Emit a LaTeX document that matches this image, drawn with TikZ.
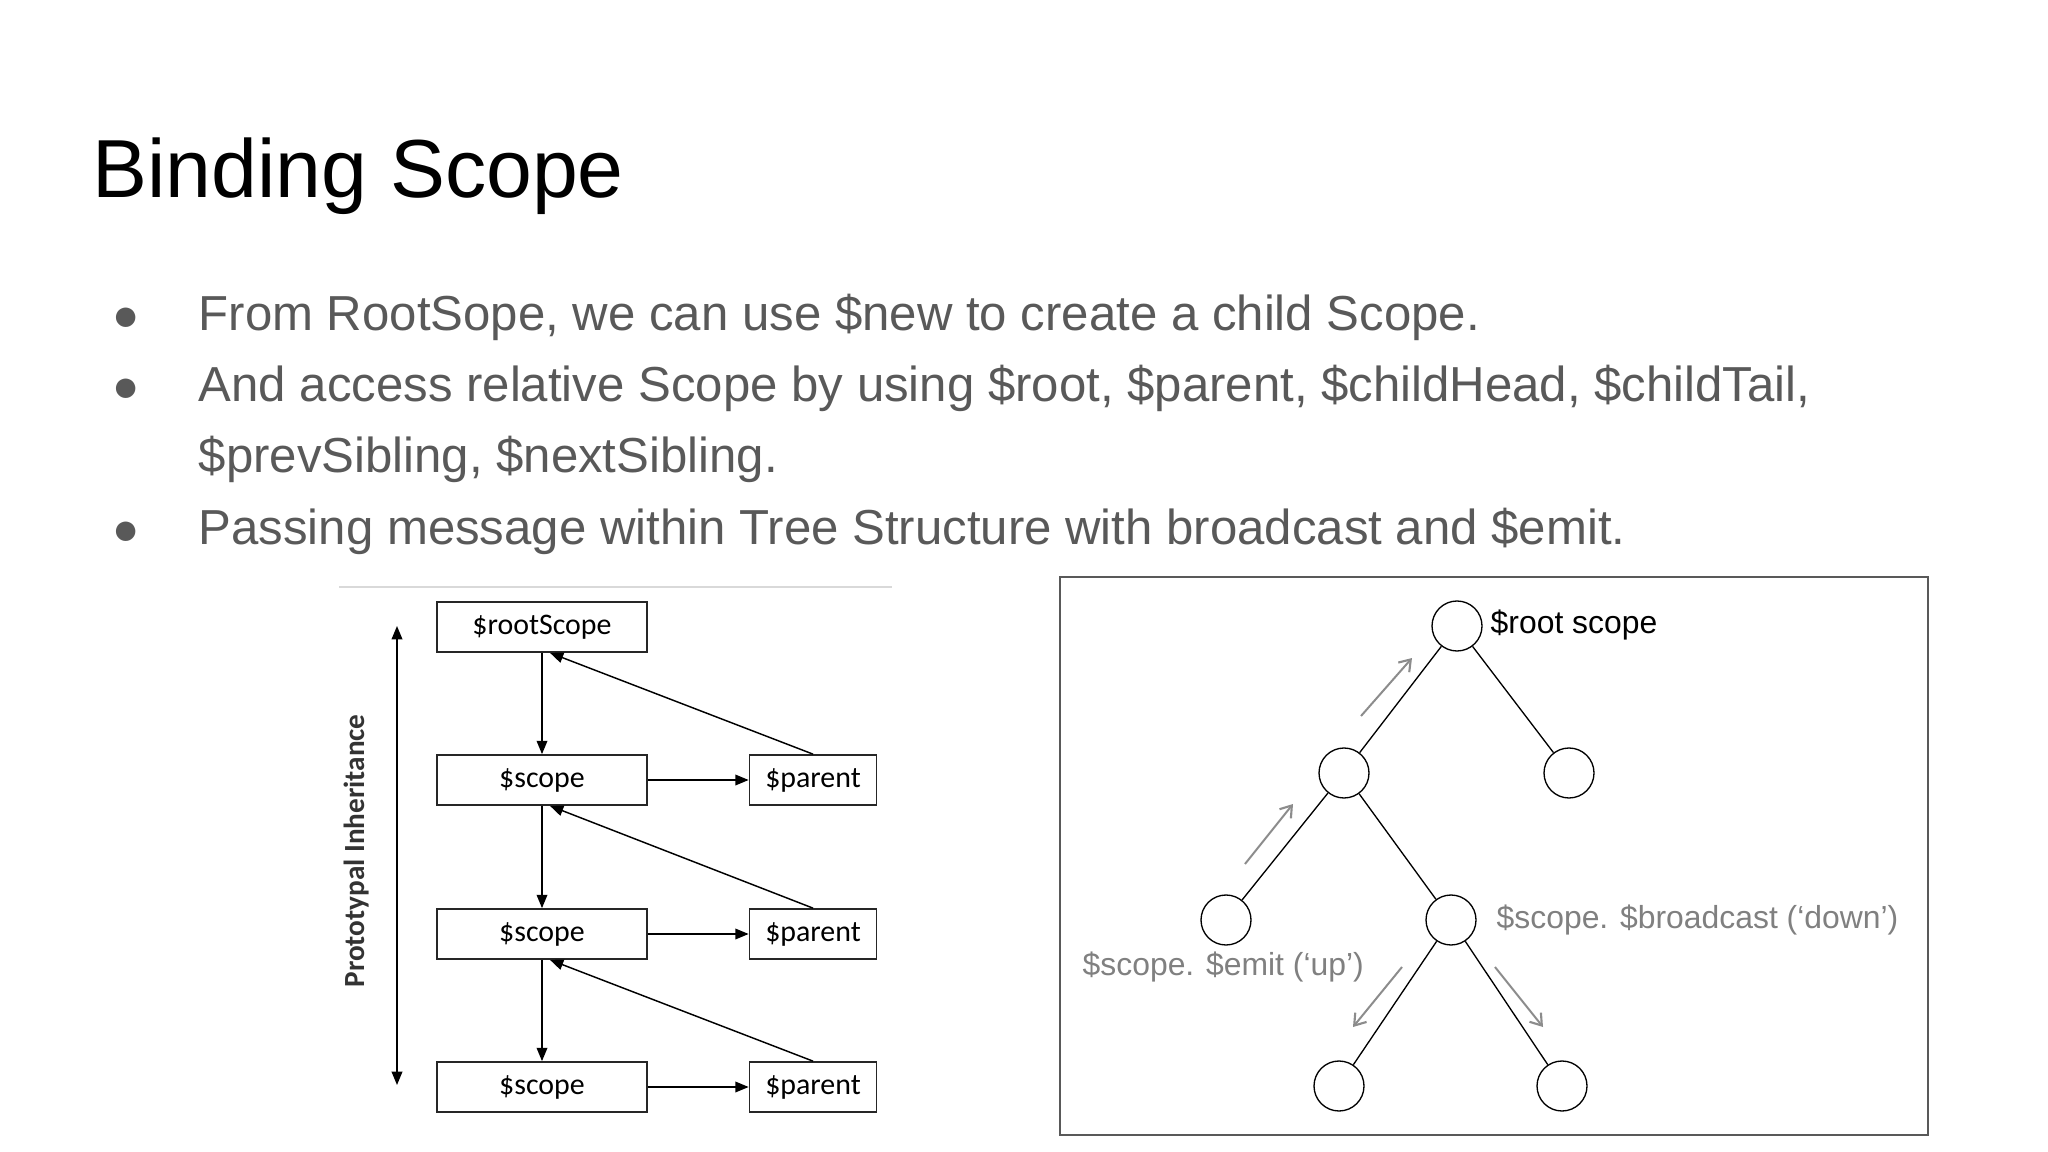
\documentclass[tikz,border=0pt]{standalone}
\usepackage{fontspec}
\setmainfont{Liberation Sans}
\newfontfamily\carl{Carlito}
\usetikzlibrary{arrows.meta,calc}
\begin{document}
\begin{tikzpicture}[x=0.75bp,y=-0.75bp,
  bx/.style={draw=black!85,line width=1.3pt,minimum width=210*0.75bp,minimum height=50*0.75bp,inner sep=0pt,font=\carl\fontsize{22.5}{26}\selectfont},
  pbx/.style={bx,minimum width=127*0.75bp},
  blk/.style={line width=1.1pt,-{Triangle[length=10pt,width=8pt]}},
  circ/.style={draw,circle,line width=1pt,minimum size=50*0.75bp,inner sep=0pt},
  tree/.style={line width=1pt},
  garr/.style={draw=black!45,line width=1.5pt,-{Straight Barb[length=8pt,width=11pt,line width=1.6pt]}},
  bul/.style={anchor=base west,text=black!65,font=\fontsize{37}{45}\selectfont}]
\useasboundingbox (0,0) rectangle (2048,1152);
\node[anchor=base west,font=\fontsize{62}{74}\selectfont] (title) at (88,198) {Binding Scope};
\node[bul] (b1) at (194,331) {From RootSope, we can use \$new to create a child Scope.};
\node[bul] (b2) at (194,402) {And access relative Scope by using \$root, \$parent, \$childHead, \$childTail,};
\node[bul] (b2b) at (194,472) {\$prevSibling, \$nextSibling.};
\node[bul] (b3) at (194,544) {Passing message within Tree Structure with broadcast and \$emit.};
\foreach \n/\y in {d1/331,d2/402,d3/544}
  \node[anchor=base,text=black!65,font=\fontsize{34}{40}\selectfont] (\n) at (126,\y) {●};
% left diagram
\draw[black!15,line width=0.8pt] (339,587) -- (892,587);
\node[bx] (root) at (542,627) {\$rootScope};
\node[bx] (s1) at (542,780) {\$scope};
\node[bx] (s2) at (542,934) {\$scope};
\node[bx] (s3) at (542,1087) {\$scope};
\node[pbx] (p1) at (813,780) {\$parent};
\node[pbx] (p2) at (813,934) {\$parent};
\node[pbx] (p3) at (813,1087) {\$parent};
\draw[blk] (root) -- (s1);
\draw[blk] (s1) -- (s2);
\draw[blk] (s2) -- (s3);
\draw[blk] (s1) -- (p1);
\draw[blk] (s2) -- (p2);
\draw[blk] (s3) -- (p3);
\draw[blk] (p1.north) -- ($(root.south)+(8,0)$);
\draw[blk] (p2.north) -- ($(s1.south)+(8,0)$);
\draw[blk] (p3.north) -- ($(s2.south)+(8,0)$);
\coordinate (pt) at (397,626);
\coordinate (pb) at (397,1085);
\draw[line width=1.1pt,{Triangle[length=10pt,width=8pt]}-{Triangle[length=10pt,width=8pt]}] (pt) -- (pb);
\node[rotate=90,font=\carl\bfseries\fontsize{22}{26}\selectfont,text=black!80] (pi) at (357,851) {Prototypal Inheritance};
% right diagram
\draw[black!65,line width=1.5pt] (1060,577) rectangle (1928,1135);
\node[circ] (r) at (1457,626) {};
\node[circ] (a) at (1344,773) {};
\node[circ] (b) at (1569,773) {};
\node[circ] (c) at (1226,920) {};
\node[circ] (d) at (1451,920) {};
\node[circ] (e) at (1339,1086) {};
\node[circ] (f) at (1562,1086) {};
\draw[tree] (r) -- (a); \draw[tree] (r) -- (b);
\draw[tree] (a) -- (c); \draw[tree] (a) -- (d);
\draw[tree] (d) -- (e); \draw[tree] (d) -- (f);
\node[anchor=west,font=\fontsize{24}{28}\selectfont] (rl) at (1486,625) {\$root scope};
\node[anchor=west,text=black!50,font=\fontsize{24}{28}\selectfont] (dl) at (1492,920) {\$scope. \$broadcast (‘down’)};
\node[anchor=west,text=black!50,font=\fontsize{24}{28}\selectfont] (cl) at (1078,967) {\$scope. \$emit (‘up’)};
\coordinate (u1a) at (1361,716); \coordinate (u1b) at (1412,658);
\coordinate (u2a) at (1245,864); \coordinate (u2b) at (1293,804);
\coordinate (l1a) at (1402,967); \coordinate (l1b) at (1353,1027);
\coordinate (r1a) at (1495,967); \coordinate (r1b) at (1543,1027);
\draw[garr] (u1a) -- (u1b);
\draw[garr] (u2a) -- (u2b);
\draw[garr] (l1a) -- (l1b);
\draw[garr] (r1a) -- (r1b);
\end{tikzpicture}
\end{document}
